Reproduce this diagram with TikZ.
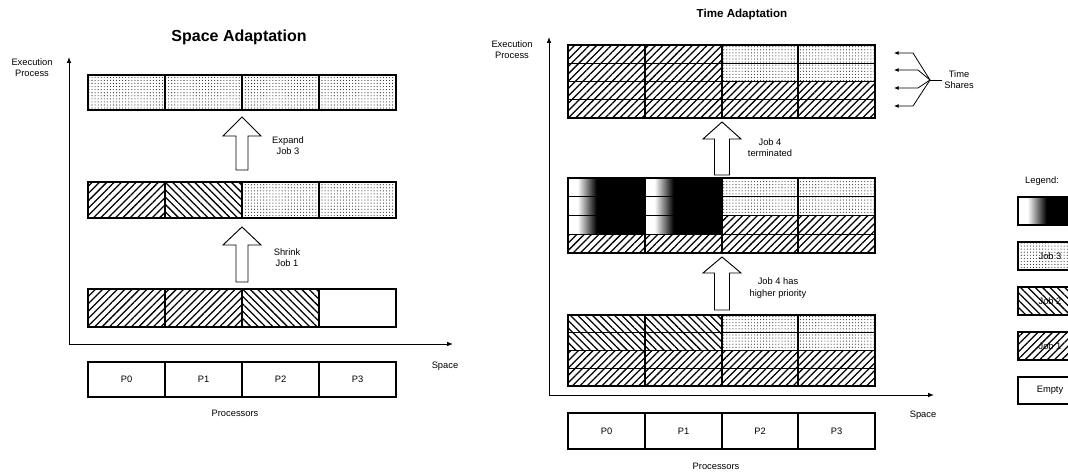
\documentclass[tikz,border=0pt]{standalone}
\usepackage{fontspec}
\setmainfont{Liberation Sans}
\usetikzlibrary{patterns.meta,arrows.meta}
\newcommand\gradcell[4]{% x0 y0 x1(end of cell) y1
  \fill[white] (#1,#2) rectangle ({#1+10},#4);
  \foreach \k in {0,...,18}{
    \pgfmathsetmacro\pc{(\k+0.5)*100/19}
    \fill[black!\pc] ({#1+10+\k},#2) rectangle ({#1+11.05+\k},#4);
  }
  \fill[black] ({#1+29},#2) rectangle (#3,#4);
  \draw[cellb] (#1,#2) rectangle (#3,#4);
}
\begin{document}
\begin{tikzpicture}[x=0.75pt,y=-0.75pt,
  cellb/.style={draw,line width=0.9pt},
  jone/.style={cellb,pattern={Lines[angle=45,distance=3.9pt,line width=0.95pt]}},
  jtwo/.style={cellb,pattern={Lines[angle=-45,distance=3.9pt,line width=0.95pt]}},
  jthree/.style={cellb,pattern={Dots[distance=2.3pt,radius=0.42pt]},pattern color=black!85},
  empt/.style={cellb},
  lab/.style={font=\fontsize{7}{8.5}\selectfont,align=center,inner sep=0pt},
  ttl/.style={font=\fontsize{12}{14}\selectfont\bfseries,inner sep=0pt},
  ttlr/.style={font=\fontsize{8.7}{10}\selectfont\bfseries,inner sep=0pt},
  axis/.style={line width=0.7pt,-{Latex[length=4.5pt,width=3.5pt]}},
  tsarr/.style={line width=0.6pt,-{Latex[length=3.5pt,width=3pt]}},
  blockarr/.style={draw,fill=white,line width=0.7pt}]
\useasboundingbox (0,0) rectangle (1068,473);
\begin{scope}
\clip (0,0) rectangle (1068,473);

% ================= LEFT: Space Adaptation =================
\node[ttl] (ltitle) at (239,37) {Space Adaptation};
\node[lab] (lexec) at (32,68) {Execution\\Process};
\coordinate (lorig) at (69,344);
\coordinate (ltop) at (69,57);
\coordinate (lright) at (453,344);
\draw[axis] (lorig) -- (ltop);
\draw[axis] (lorig) -- (lright);
\node[lab] (lspace) at (445,366) {Space};

% top row
\foreach \a/\b/\s in {88/165/jthree,165/242/jthree,242/319/jthree,319/396/jthree}
  \path[\s] (\a,75) rectangle (\b,110);
% middle row
\foreach \a/\b/\s in {88/165/jone,165/242/jtwo,242/319/jthree,319/396/jthree}
  \path[\s] (\a,182) rectangle (\b,218);
% bottom row
\foreach \a/\b/\s in {88/165/jone,165/242/jone,242/319/jtwo,319/396/empt}
  \path[\s] (\a,289) rectangle (\b,327);

% block arrows
\draw[blockarr] (242,117) -- (261,136) -- (248,136) -- (248,170) -- (236,170) -- (236,136) -- (223,136) -- cycle;
\node[lab] (lexpand) at (288,146) {Expand\\Job 3};
\draw[blockarr] (242,227) -- (261,245) -- (248,245) -- (248,282) -- (236,282) -- (236,245) -- (223,245) -- cycle;
\node[lab] (lshrink) at (287,258) {Shrink\\Job 1};

% processors
\foreach \a/\b/\t [count=\i from 0] in {88/165/P0,165/242/P1,242/319/P2,319/396/P3}{
  \path[empt] (\a,362) rectangle (\b,397);
  \node[lab] (lp\i) at ({(\a+\b)/2},379) {\t};
}
\node[lab] (lproc) at (235,413) {Processors};

% ================= RIGHT: Time Adaptation =================
\node[ttlr] (rtitle) at (742,15) {Time Adaptation};
\node[lab] (rexec) at (512,50) {Execution\\Process};
\coordinate (rorig) at (549,395);
\coordinate (rtop) at (549,37);
\coordinate (rright) at (934,395);
\draw[axis] (rorig) -- (rtop);
\draw[axis] (rorig) -- (rright);
\node[lab] (rspace) at (923,415) {Space};

% top block
\foreach \ya/\yb in {45/63.25,63.25/81.5}
  \foreach \a/\b/\s in {568/645/jone,645/722/jone,722/798/jthree,798/875/jthree}
    \path[\s] (\a,\ya) rectangle (\b,\yb);
\foreach \ya/\yb in {81.5/99.75,99.75/118}
  \foreach \a/\b in {568/645,645/722,722/798,798/875}
    \path[jone] (\a,\ya) rectangle (\b,\yb);

% middle block
\foreach \ya/\yb/\s in {178/196.75/jthree,196.75/215.5/jthree,215.5/234.25/jone}{
  \gradcell{568}{\ya}{645}{\yb}
  \gradcell{645}{\ya}{722}{\yb}
  \path[\s] (722,\ya) rectangle (798,\yb);
  \path[\s] (798,\ya) rectangle (875,\yb);
}
\foreach \a/\b in {568/645,645/722,722/798,798/875}
  \path[jone] (\a,234.25) rectangle (\b,253);

% bottom block
\foreach \ya/\yb in {315/332.75,332.75/350.5}
  \foreach \a/\b/\s in {568/645/jtwo,645/722/jtwo,722/798/jthree,798/875/jthree}
    \path[\s] (\a,\ya) rectangle (\b,\yb);
\foreach \ya/\yb in {350.5/368.25,368.25/386}
  \foreach \a/\b in {568/645,645/722,722/798,798/875}
    \path[jone] (\a,\ya) rectangle (\b,\yb);

% block arrows
\draw[blockarr] (722,122) -- (741,139) -- (729.5,139) -- (729.5,175) -- (714.5,175) -- (714.5,139) -- (703,139) -- cycle;
\node[lab] (rterm) at (770,148) {Job 4\\terminated};
\draw[blockarr] (722,257) -- (741,273) -- (729.5,273) -- (729.5,310) -- (714.5,310) -- (714.5,273) -- (703,273) -- cycle;
\node[lab] (rprio) at (778,288) {Job 4 has\\higher priority};

% processors
\foreach \a/\b/\t [count=\i from 0] in {568/645/P0,645/722/P1,722/798/P2,798/875/P3}{
  \path[empt] (\a,413) rectangle (\b,449);
  \node[lab] (rp\i) at ({(\a+\b)/2},431) {\t};
}
\node[lab] (rproc) at (716,466) {Processors};

% time shares
\node[lab,anchor=west] (tshares) at (944,80) {Time\\Shares};
\coordinate (tsj) at (930,80);
\coordinate (tse) at (942,80);
\draw[line width=0.6pt] (tse) -- (tsj);
\coordinate (ts1) at (894,53);
\coordinate (ts2) at (894,70);
\coordinate (ts3) at (894,88);
\coordinate (ts4) at (894,106);
\draw[tsarr] (tsj) -- (913,53) -- (ts1);
\draw[tsarr] (tsj) -- (918,70) -- (ts2);
\draw[tsarr] (tsj) -- (918,88) -- (ts3);
\draw[tsarr] (tsj) -- (913,106) -- (ts4);

% ================= LEGEND =================
\node[lab] (legend) at (1042,181) {Legend:};
\gradcell{1018}{197}{1090}{225}
\path[jthree] (1018,242) rectangle (1090,270);
\node[lab] (lg3) at (1050,256) {Job 3};
\path[jtwo] (1018,287) rectangle (1090,315);
\node[lab] (lg2) at (1050,301) {Job 2};
\path[jone] (1018,332) rectangle (1090,360);
\node[lab] (lg1) at (1050,346) {Job 1};
\path[empt] (1018,377) rectangle (1090,404);
\node[lab] (lg0) at (1050,390.5) {Empty};
\end{scope}
\end{tikzpicture}
\end{document}
